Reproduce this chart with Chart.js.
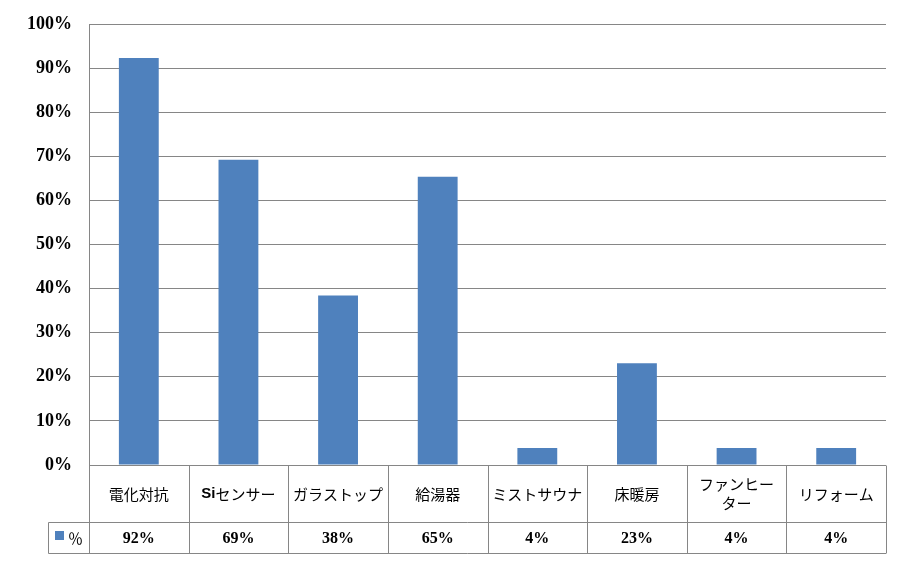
<!DOCTYPE html>
<html>
<head>
<meta charset="utf-8">
<script src="https://cdn.jsdelivr.net/npm/chart.js@4"></script>
<style>
  body { margin: 0; background: #fff; }
  #chart { display: block; }
</style>
</head>
<body>
<canvas id="chart" width="910" height="564"></canvas>
<script>
// categories (multi-line labels are arrays)
const categories = ['電化対抗', 'Siセンサー', 'ガラストップ', '給湯器', 'ミストサウナ', '床暖房', ['ファンヒー', 'ター'], 'リフォーム'];
// share in percent
const percentValues = [92.3, 69.2, 38.46, 65.38, 3.85, 23.08, 3.85, 3.85];
const seriesName = '％';
const yTicks = [0, 10, 20, 30, 40, 50, 60, 70, 80, 90, 100];

const barColor = '#4F81BD';
const lineColor = '#868686';
const jpFont = '"Noto Sans CJK JP", "Noto Sans", sans-serif';

// draw text where ascii letters are bold (e.g. "Si")
function drawMixed(ctx, text, cx, cy) {
    const runs = [];
    for (const ch of text) {
        const bold = /[A-Za-z]/.test(ch);
        if (runs.length && runs[runs.length - 1].bold === bold) runs[runs.length - 1].t += ch;
        else runs.push({ t: ch, bold: bold });
    }
    let total = 0;
    runs.forEach(r => {
        ctx.font = r.bold ? 'bold 15px "Liberation Sans", Arial, sans-serif' : '15px ' + jpFont;
        r.w = ctx.measureText(r.t).width;
        total += r.w;
    });
    let x = cx - total / 2;
    ctx.textAlign = 'left';
    runs.forEach(r => {
        ctx.font = r.bold ? 'bold 15px "Liberation Sans", Arial, sans-serif' : '15px ' + jpFont;
        ctx.fillText(r.t, x, cy);
        x += r.w;
    });
}

const dataTable = {
    id: 'dataTable',
    afterDraw(chart) {
        const ctx = chart.ctx;
        const xs = chart.scales.x;
        const area = chart.chartArea;
        const n = categories.length;
        const colW = (area.right - area.left) / n;
        const top = Math.round(area.bottom) + 0.5;
        const mid = top + 57;
        const bot = top + 88;
        const leftEdge = 48.5;

        ctx.save();
        ctx.strokeStyle = lineColor;
        ctx.lineWidth = 1;
        ctx.beginPath();
        ctx.moveTo(area.left, top); ctx.lineTo(area.right, top);
        ctx.moveTo(leftEdge, mid); ctx.lineTo(area.right, mid);
        ctx.moveTo(leftEdge, bot); ctx.lineTo(area.right, bot);
        ctx.moveTo(leftEdge, mid); ctx.lineTo(leftEdge, bot);
        for (let i = 0; i <= n; i++) {
            const x = Math.round(area.left + i * colW) + 0.5;
            ctx.moveTo(x, top); ctx.lineTo(x, bot);
        }
        ctx.stroke();

        ctx.fillStyle = '#000';
        ctx.textBaseline = 'middle';
        categories.forEach((c, i) => {
            const cx = xs.getPixelForValue(i);
            const lines = Array.isArray(c) ? c : [c];
            const lh = 19;
            const y0 = (top + mid) / 2 - (lines.length - 1) * lh / 2;
            lines.forEach((l, j) => drawMixed(ctx, l, cx, y0 + j * lh));
        });

        ctx.font = 'bold 16px "Liberation Serif", "Times New Roman", serif';
        ctx.textAlign = 'center';
        percentValues.forEach((v, i) => {
            ctx.fillText(Math.round(v) + '%', xs.getPixelForValue(i), (mid + bot) / 2 + 1);
        });

        // legend key
        ctx.fillStyle = barColor;
        ctx.fillRect(55, 531, 9, 9);
        ctx.fillStyle = '#000';
        ctx.font = '15px ' + jpFont;
        ctx.textAlign = 'left';
        ctx.fillText(seriesName, 68, (mid + bot) / 2);
        ctx.restore();
    }
};

new Chart(document.getElementById('chart'), {
    type: 'bar',
    data: {
        labels: categories,
        datasets: [{
            label: seriesName,
            data: percentValues,
            backgroundColor: barColor,
            barPercentage: 0.4,
            categoryPercentage: 1
        }]
    },
    options: {
        responsive: false,
        animation: false,
        layout: { padding: { left: 0, top: 24, right: 24, bottom: 99 } },
        plugins: { legend: { display: false }, tooltip: { enabled: false } },
        scales: {
            x: { display: false },
            y: {
                min: 0,
                max: 100,
                afterFit(scale) {
                    scale.width = 89;
                    scale.paddingTop = 0;
                    scale.paddingBottom = 0;
                },
                afterBuildTicks(scale) { scale.ticks = yTicks.map(v => ({ value: v })); },
                ticks: {
                    padding: 17,
                    color: '#000',
                    font: { family: '"Liberation Serif", "Times New Roman", serif', size: 18, weight: 'bold' },
                    callback: v => v + '%'
                },
                grid: { color: lineColor, drawTicks: false },
                border: { color: lineColor }
            }
        }
    },
    plugins: [dataTable]
});
</script>
</body>
</html>
